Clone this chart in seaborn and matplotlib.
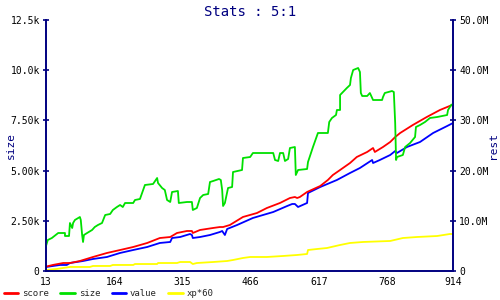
import matplotlib
matplotlib.use("Agg")
import matplotlib.pyplot as plt
import seaborn as sns
import pandas as pd
from matplotlib.lines import Line2D

# ---- data ----
size_x = [13, 17, 26, 40, 55, 55, 64, 66, 71, 73, 77, 88, 90, 93, 95, 97, 104, 115, 121, 128,
          137, 144, 155, 161, 170, 177, 183, 188, 206, 210, 221, 232, 250, 259, 261, 270, 276,
          281, 288, 292, 305, 307, 325, 336, 338, 347, 354, 361, 372, 376, 383, 396, 400, 403,
          405, 409, 416, 425, 427, 447, 449, 465, 471, 516, 520, 527, 531, 538, 542, 549, 553,
          564, 566, 571, 591, 593, 604, 615, 637, 640, 646, 655, 657, 664, 664, 679, 686, 688,
          693, 704, 708, 710, 713, 724, 730, 737, 757, 759, 763, 779, 783, 786, 788, 790, 803,
          808, 819, 830, 832, 841, 852, 863, 879, 901, 903, 910, 914]
size_v = [1245, 1544, 1643, 1892, 1892, 1743, 1743, 2390, 2141, 2390, 2540, 2689, 2540, 1793,
          1444, 1793, 1892, 2042, 2191, 2291, 2390, 2789, 2839, 3038, 3187, 3287, 3187, 3386,
          3386, 3536, 3586, 4283, 4333, 4631, 4382, 4133, 4034, 3536, 3436, 3934, 3984, 3386,
          3436, 3436, 3038, 3137, 3635, 3785, 3835, 4432, 4482, 4582, 4532, 4034, 3237, 3386,
          4133, 4183, 4930, 5030, 5627, 5677, 5876, 5876, 5528, 5478, 5876, 5876, 5478, 5578,
          6125, 6175, 4781, 5030, 5080, 5428, 6175, 6873, 6873, 7420, 7620, 7769, 8018, 8018,
          8765, 9114, 9263, 9612, 10010, 10110, 9910, 8865, 8715, 8715, 8865, 8516, 8516, 8665,
          8865, 8964, 8914, 7371, 5528, 5677, 5777, 6175, 6375, 6673, 7171, 7271, 7420, 7620,
          7669, 7769, 8018, 8267, 8317]

score_x = [13, 28, 51, 66, 88, 117, 148, 177, 206, 237, 265, 288, 303, 325, 336, 338, 354, 383,
           398, 405, 420, 449, 480, 502, 531, 553, 564, 569, 575, 591, 620, 637, 648, 664, 686,
           701, 724, 737, 741, 759, 775, 786, 797, 825, 856, 885, 912, 914]
score_v = [0.86, 1.20, 1.59, 1.59, 1.99, 2.79, 3.59, 4.18, 4.78, 5.58, 6.57, 6.77, 7.57, 7.97,
           7.97, 7.57, 8.17, 8.57, 8.76, 8.76, 9.16, 10.76, 11.55, 12.55, 13.55, 14.54, 14.74,
           14.54, 14.74, 15.74, 16.93, 18.13, 19.12, 20.12, 21.51, 22.71, 23.71, 24.50, 23.71,
           24.70, 25.70, 26.69, 27.49, 29.08, 30.68, 32.07, 33.07, 33.27]

value_x = [13, 44, 59, 66, 95, 117, 148, 177, 206, 237, 265, 288, 292, 310, 332, 336, 338, 354,
           376, 398, 403, 409, 414, 436, 471, 516, 547, 558, 564, 571, 591, 593, 620, 657, 686,
           708, 735, 737, 752, 775, 786, 790, 812, 841, 870, 901, 914]
value_v = [0.80, 1.20, 1.20, 1.59, 1.99, 2.39, 2.79, 3.59, 4.18, 4.78, 5.58, 5.78, 6.57, 6.77,
           7.37, 7.17, 6.57, 6.77, 7.17, 7.77, 7.97, 7.17, 8.37, 9.16, 10.56, 11.75, 12.95,
           13.35, 13.35, 12.75, 13.55, 15.54, 16.73, 18.13, 19.52, 20.52, 22.11, 21.51, 22.11,
           23.11, 23.90, 23.51, 24.70, 25.70, 27.49, 28.88, 29.48]

xp_x = [13, 37, 51, 66, 110, 117, 155, 161, 206, 210, 259, 261, 303, 310, 332, 338, 347, 383,
        414, 427, 449, 465, 502, 538, 569, 591, 593, 613, 635, 664, 686, 715, 775, 803, 834,
        879, 907, 914]
xp_v = [0.20, 0.40, 0.60, 0.80, 0.80, 1.00, 1.00, 1.20, 1.20, 1.39, 1.39, 1.59, 1.59, 1.79,
        1.79, 1.39, 1.59, 1.79, 1.99, 2.19, 2.59, 2.79, 2.79, 2.99, 3.19, 3.39, 4.18, 4.38,
        4.58, 5.18, 5.58, 5.78, 5.98, 6.57, 6.77, 6.97, 7.37, 7.37]

x_ticks = [13, 164, 315, 466, 617, 768, 914]
left_ticks = [0, 2500, 5000, 7500, 10000, 12500]
left_labels = ["0", "2.50k", "5.00k", "7.50k", "10.0k", "12.5k"]
right_ticks = [0, 10, 20, 30, 40, 50]
right_labels = ["0", "10.0M", "20.0M", "30.0M", "40.0M", "50.0M"]

title = "Stats : 5:1"
NAVY = "#000080"
C_SCORE, C_SIZE, C_VALUE, C_XP = "#ff0000", "#00e000", "#0000ff", "#ffff00"

sns.set_style("white")
plt.rcParams["font.family"] = ["DejaVu Sans Mono", "DejaVu Sans"]

fig = plt.figure(figsize=(5, 3), dpi=100)
ax = fig.add_axes([0.092, 0.0967, 0.814, 0.8366])
ax2 = ax.twinx()

df_size = pd.DataFrame({"x": size_x, "y": size_v})
df_score = pd.DataFrame({"x": score_x, "y": score_v})
df_value = pd.DataFrame({"x": value_x, "y": value_v})
df_xp = pd.DataFrame({"x": xp_x, "y": xp_v})

lw = 1.3
for df, c in ((df_xp, C_XP), (df_value, C_VALUE), (df_score, C_SCORE)):
    sns.lineplot(data=df, x="x", y="y", ax=ax2, color=c, lw=lw, estimator=None, sort=False)
sns.lineplot(data=df_size, x="x", y="y", ax=ax, color=C_SIZE, lw=lw, estimator=None, sort=False)
ax.set_zorder(ax2.get_zorder() + 1)
ax.patch.set_visible(False)

ax.set_xlim(13, 914)
ax.set_ylim(0, 12500)
ax2.set_ylim(0, 50)
ax.set_xticks(x_ticks)
ax.set_xticklabels([str(t) for t in x_ticks])
ax.set_yticks(left_ticks)
ax.set_yticklabels(left_labels)
ax2.set_yticks(right_ticks)
ax2.set_yticklabels(right_labels)

for a in (ax, ax2):
    for s in a.spines.values():
        s.set_color(NAVY)
        s.set_linewidth(1.2)
    a.spines["top"].set_visible(False)
    a.tick_params(colors=NAVY, labelcolor="black", labelsize=7, width=1.2, length=5,
                  direction="inout", pad=2)
ax.set_xlabel("")
ax.set_ylabel("size", color=NAVY, fontsize=8)
ax2.set_ylabel("rest", color=NAVY, fontsize=8)
ax.yaxis.set_label_coords(-0.075, 0.5)
ax2.yaxis.set_label_coords(1.085, 0.5)

fig.suptitle(title, color=NAVY, fontsize=10, y=0.985)

handles = [Line2D([0], [0], color=c, lw=2) for c in (C_SCORE, C_SIZE, C_VALUE, C_XP)]
fig.legend(handles, ["score", "size", "value", "xp*60"], loc="lower left",
           bbox_to_anchor=(-0.005, -0.015), ncol=4, frameon=False, fontsize=6.5,
           handlelength=1.6, handletextpad=0.4, columnspacing=1.3, borderpad=0.2)

fig.savefig("out.png", dpi=100)
